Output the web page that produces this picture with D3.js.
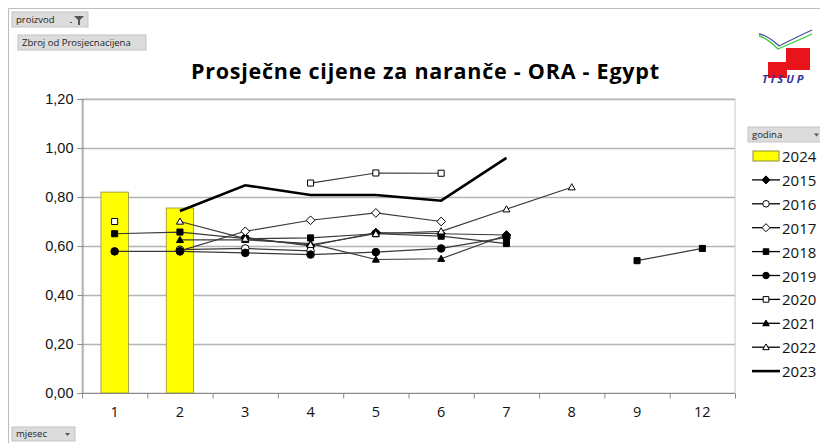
<!DOCTYPE html>
<html>
<head>
<meta charset="utf-8">
<script src="https://cdn.jsdelivr.net/npm/d3@7"></script>
<style>
  body { margin: 0; background: #fff; }
  svg { display: block; font-family: "Open Sans", "Liberation Sans", sans-serif; }
</style>
</head>
<body>
<div id="chart"></div>
<script>
// months on the x axis
var months = ["1", "2", "3", "4", "5", "6", "7", "8", "9", "12"];
var yTicks = [0, 0.2, 0.4, 0.6, 0.8, 1.0, 1.2];

// 2024 is drawn as bars
var bars2024 = [0.82, 0.755, null, null, null, null, null, null, null, null];

// line series, one value per month (null = no data)
var y2015 = [null, null, 0.635, 0.60, 0.655, 0.65, 0.645, null, null, null];
var y2016 = [null, 0.585, 0.59, 0.58, null, null, null, null, null, null];
var y2017 = [null, 0.58, 0.66, 0.705, 0.735, 0.70, null, null, null, null];
var y2018 = [0.65, 0.657, 0.63, 0.633, 0.65, 0.64, 0.61, null, 0.54, 0.59];
var y2019 = [0.578, 0.578, 0.572, 0.565, 0.575, 0.59, 0.635, null, null, null];
var y2020 = [0.70, null, null, 0.857, 0.898, 0.897, null, null, null, null];
var y2021 = [null, 0.625, 0.625, 0.61, 0.545, 0.548, 0.645, null, null, null];
var y2022 = [null, 0.70, 0.63, 0.605, 0.65, 0.66, 0.75, 0.84, null, null];
var y2023 = [null, 0.743, 0.848, 0.808, 0.808, 0.785, 0.96, null, null, null];

var series = [
  {name: "2015", values: y2015, marker: "diamond", fill: "#000"},
  {name: "2016", values: y2016, marker: "circle", fill: "#fff"},
  {name: "2017", values: y2017, marker: "diamond", fill: "#fff"},
  {name: "2018", values: y2018, marker: "square", fill: "#000"},
  {name: "2019", values: y2019, marker: "circle", fill: "#000"},
  {name: "2020", values: y2020, marker: "square", fill: "#fff"},
  {name: "2021", values: y2021, marker: "triangle", fill: "#000"},
  {name: "2022", values: y2022, marker: "triangle", fill: "#fff"},
  {name: "2023", values: y2023, marker: null, fill: "none"}
];

var W = 820, H = 443;
var plot = {left: 82, right: 735, top: 99, bottom: 393};

var svg = d3.select("#chart").append("svg")
  .attr("width", W).attr("height", H);

// outer frame
svg.append("path")
  .attr("d", "M8.5," + H + " V8.5 H" + W)
  .attr("fill", "none").attr("stroke", "#bdbdbd");

var x = d3.scaleBand().domain(months).range([plot.left, plot.right]);
var xBar = d3.scaleBand().domain(months).range([plot.left, plot.right]).paddingInner(0.58).paddingOuter(0.29);
var y = d3.scaleLinear().domain([0, 1.2]).range([plot.bottom, plot.top]);

// plot frame + gridlines
svg.append("rect")
  .attr("x", plot.left).attr("y", plot.top)
  .attr("width", plot.right - plot.left).attr("height", plot.bottom - plot.top)
  .attr("fill", "none").attr("stroke", "#c8c8c8");

svg.append("g").selectAll("line")
  .data(yTicks.slice(1))
  .enter().append("line")
    .attr("x1", plot.left).attr("x2", plot.right)
    .attr("y1", function(d) { return Math.round(y(d)) + 0.5; })
    .attr("y2", function(d) { return Math.round(y(d)) + 0.5; })
    .attr("stroke", "#b4b4b4").attr("stroke-width", 1.3);

// bars 2024
svg.append("g").selectAll("rect")
  .data(months.map(function(m, i) { return {m: m, v: bars2024[i]}; }).filter(function(d) { return d.v != null; }))
  .enter().append("rect")
    .attr("x", function(d) { return xBar(d.m); })
    .attr("width", xBar.bandwidth())
    .attr("y", function(d) { return y(d.v); })
    .attr("height", function(d) { return y(0) - y(d.v); })
    .attr("fill", "#ffff00").attr("stroke", "#8c8c3c").attr("stroke-width", 0.8);

// axes
var yAxis = d3.axisLeft(y).tickValues(yTicks).tickSize(5)
  .tickFormat(function(d) { return d.toFixed(2).replace(".", ","); });
var gy = svg.append("g").attr("transform", "translate(" + (plot.left + 0.5) + ",0)").call(yAxis);
gy.select(".domain").attr("stroke", "#888");
gy.selectAll(".tick line").attr("stroke", "#888");
gy.selectAll("text").attr("font-size", 14.5).attr("fill", "#111").attr("x", -9);

var gx = svg.append("g").attr("transform", "translate(0," + (plot.bottom + 0.5) + ")");
gx.append("line").attr("x1", plot.left).attr("x2", plot.right).attr("stroke", "#888");
gx.selectAll(".tk").data(months.concat(["end"])).enter().append("line")
  .attr("x1", function(d, i) { return plot.left + i * x.step() + 0.5; })
  .attr("x2", function(d, i) { return plot.left + i * x.step() + 0.5; })
  .attr("y1", 0).attr("y2", 5).attr("stroke", "#888");
gx.selectAll("text").data(months).enter().append("text")
  .attr("x", function(d) { return x(d) + x.bandwidth() / 2; })
  .attr("y", 23)
  .attr("text-anchor", "middle").attr("font-size", 14.5).attr("fill", "#111")
  .text(function(d) { return d; });

// lines
var line = d3.line()
  .defined(function(d) { return d.v != null; })
  .x(function(d) { return x(d.m) + x.bandwidth() / 2; })
  .y(function(d) { return y(d.v); });

function markerPath(type, s) {
  if (type === "circle") return d3.symbol(d3.symbolCircle, s * s * 0.8)();
  if (type === "square") return d3.symbol(d3.symbolSquare, s * s * 0.75)();
  if (type === "diamond") return "M0," + (-s * 0.62) + "L" + (s * 0.62) + ",0L0," + (s * 0.62) + "L" + (-s * 0.62) + ",0Z";
  if (type === "triangle") return "M0," + (-s * 0.5) + "L" + (s * 0.5) + "," + (s * 0.38) + "L" + (-s * 0.5) + "," + (s * 0.38) + "Z";
  return null;
}

series.forEach(function(s) {
  var pts = months.map(function(m, i) { return {m: m, v: s.values[i]}; });
  svg.append("path")
    .datum(pts)
    .attr("d", line)
    .attr("fill", "none")
    .attr("stroke", s.marker ? "#3a3a3a" : "#000")
    .attr("stroke-width", s.marker ? 1.2 : 2.6);
});

series.forEach(function(s) {
  if (!s.marker) return;
  var pts = months.map(function(m, i) { return {m: m, v: s.values[i]}; }).filter(function(d) { return d.v != null; });
  svg.append("g").selectAll("path")
    .data(pts).enter().append("path")
      .attr("transform", function(d) { return "translate(" + (x(d.m) + x.bandwidth() / 2) + "," + y(d.v) + ")"; })
      .attr("d", markerPath(s.marker, s.marker === "circle" ? 7.5 : 7))
      .attr("fill", s.fill).attr("stroke", "#000").attr("stroke-width", 1);
});

// title
svg.append("text")
  .attr("x", 425).attr("y", 79)
  .attr("text-anchor", "middle")
  .attr("font-size", 21.5).attr("font-weight", "bold").attr("fill", "#000")
  .attr("textLength", 468).attr("lengthAdjust", "spacing")
  .text("Prosječne cijene za naranče - ORA - Egypt");

// field buttons
function button(x0, y0, w, h, label, icon) {
  var g = svg.append("g").attr("transform", "translate(" + x0 + "," + y0 + ")");
  g.append("rect").attr("width", w).attr("height", h).attr("fill", "#dcdcdc").attr("stroke", "#c4c4c4");
  g.append("text").attr("x", 4).attr("y", h - 4).attr("font-size", 9.5).attr("fill", "#222").text(label);
  if (icon === "filter") {
    g.append("path").attr("d", "M" + (w - 18) + "," + (h - 5) + "h2v1h-2z").attr("fill", "#555");
    g.append("path").attr("d", "M" + (w - 14) + ",4h10l-4,4v5h-2v-5z").attr("fill", "#555");
  } else if (icon === "drop") {
    g.append("path").attr("d", "M" + (w - 10) + "," + (h / 2 - 1) + "h5l-2.5,3z").attr("fill", "#555");
  }
}
button(12, 12, 76, 15, "proizvod", "filter");
button(18, 35, 128, 15, "Zbroj od Prosjecnacijena", null);
button(12, 427, 63, 14, "mjesec", "drop");
button(748, 127, 76, 15, "godina", "drop");

// legend
var lg = svg.append("g").attr("transform", "translate(751,0)");
var legendItems = [{name: "2024", bar: true}].concat(series);
legendItems.forEach(function(s, i) {
  var cy = 156 + i * 23.9;
  if (s.bar) {
    lg.append("rect").attr("x", 2).attr("y", cy - 5).attr("width", 26).attr("height", 10)
      .attr("fill", "#ffff00").attr("stroke", "#8c8c3c");
  } else {
    lg.append("line").attr("x1", 1).attr("x2", 29).attr("y1", cy).attr("y2", cy)
      .attr("stroke", "#000").attr("stroke-width", s.marker ? 1.3 : 2.6);
    if (s.marker) {
      lg.append("path").attr("transform", "translate(15," + cy + ")")
        .attr("d", markerPath(s.marker, 6.5)).attr("fill", s.fill).attr("stroke", "#000");
    }
  }
  lg.append("text").attr("x", 31).attr("y", cy + 6).attr("font-size", 15).attr("fill", "#111").text(s.name);
});

// logo
var logo = svg.append("g").attr("transform", "translate(755,22)");
logo.append("rect").attr("x", 31).attr("y", 26).attr("width", 24).attr("height", 22).attr("fill", "#e8141c");
logo.append("rect").attr("x", 13).attr("y", 40).attr("width", 19).attr("height", 16).attr("fill", "#e8141c");
logo.append("path").attr("d", "M4,14 C12,16 18,22 23,27 C30,24 44,18 57,12").attr("fill", "none").attr("stroke", "#33cc33").attr("stroke-width", 1.3);
logo.append("path").attr("d", "M4,12 C13,13 19,20 24,24 C32,20 44,14 57,8").attr("fill", "none").attr("stroke", "#5050a0").attr("stroke-width", 1.3);
logo.append("text").attr("x", 7).attr("y", 61).attr("font-size", 11).attr("font-style", "italic")
  .attr("font-weight", "bold").attr("fill", "#3030a0").attr("letter-spacing", 3).text("TISUP");
</script>
</body>
</html>
